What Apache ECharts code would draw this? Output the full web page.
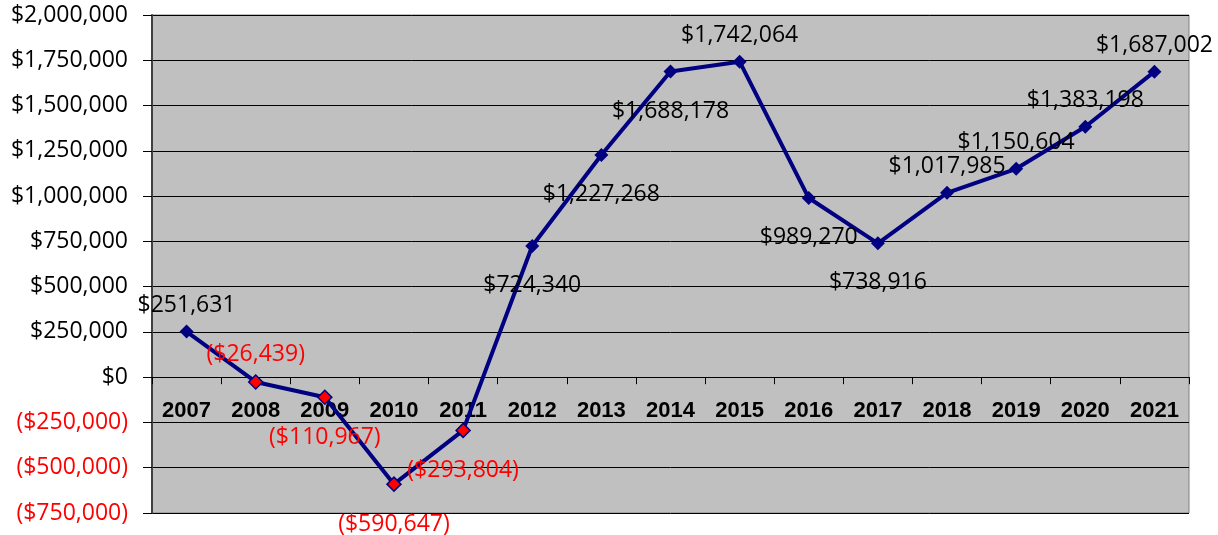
<!DOCTYPE html>
<html>
<head>
<meta charset="utf-8">
<script src="https://cdn.jsdelivr.net/npm/echarts@6/dist/echarts.min.js"></script>
<style>
html,body{margin:0;padding:0;background:#fff;}
#chart{width:1218px;height:535px;}
</style>
</head>
<body>
<div id="chart"></div>
<script>
const years = ['2007','2008','2009','2010','2011','2012','2013','2014','2015','2016','2017','2018','2019','2020','2021'];
const values = [251631, -26439, -110967, -590647, -293804, 724340, 1227268, 1688178, 1742064, 989270, 738916, 1017985, 1150604, 1383198, 1687002];
const labelSide = ['top','top','bottom','bottom','bottom','bottom','bottom','bottom','top','bottom','bottom','top','top','top','top'];
const yMin = -750000, yMax = 2000000, yStep = 250000;

function money(v){
  const s = '$' + Math.abs(v).toLocaleString('en-US');
  return v < 0 ? '(' + s + ')' : s;
}
const NAVY = '#000080', RED = '#FF0000';
const FONT = '"Open Sans", "Noto Sans", sans-serif';
const GRID = {left:152, right:29, top:15, bottom:22};
const plotH = 535 - GRID.top - GRID.bottom;
// place the category axis on the zero line of the value axis
const zeroShift = plotH * (0 - yMin) / (yMax - yMin);

const chart = echarts.init(document.getElementById('chart'), null, {renderer:'canvas'});
chart.setOption({
  animation:false,
  backgroundColor:'#ffffff',
  grid:Object.assign({show:true, backgroundColor:'#C0C0C0', borderColor:'#808080', borderWidth:1,
        containLabel:false, outerBoundsMode:'none'}, GRID),
  xAxis:{
    type:'category', data:years, boundaryGap:true, position:'bottom', offset:-zeroShift,
    axisLine:{onZero:false, lineStyle:{color:'#000', width:1}},
    axisTick:{show:true, length:7, alignWithLabel:false, lineStyle:{color:'#000'}},
    axisLabel:{fontFamily:'"Liberation Sans", Arial, sans-serif', fontSize:22, fontWeight:'bold', color:'#000', margin:23, interval:0},
    splitLine:{show:false}
  },
  yAxis:{
    type:'value', min:yMin, max:yMax, interval:yStep,
    axisLine:{show:true, lineStyle:{color:'#404040', width:2}},
    axisTick:{show:true, length:9, lineStyle:{color:'#000'}},
    axisLabel:{fontFamily:FONT, fontSize:23, margin:24, padding:[7,0,0,0],
      formatter:v=>money(v),
      color:v=>(Number(v) < 0 ? RED : '#000')},
    splitLine:{show:true, lineStyle:{color:'#000', width:1}}
  },
  series:[{
    type:'line',
    data:values.map((v,i)=>({
      value:v,
      itemStyle:{color: v<0 ? RED : NAVY, borderColor:NAVY, borderWidth: v<0 ? 1.5 : 0},
      label:{position:labelSide[i], color: v<0 ? RED : '#000', distance: labelSide[i]==='top' ? 8 : 21}
    })),
    symbol:'diamond', symbolSize:14,
    lineStyle:{color:NAVY, width:4},
    label:{show:true, fontFamily:FONT, fontSize:23, formatter:p=>money(p.value)},
    z:5
  }]
});
</script>
</body>
</html>
